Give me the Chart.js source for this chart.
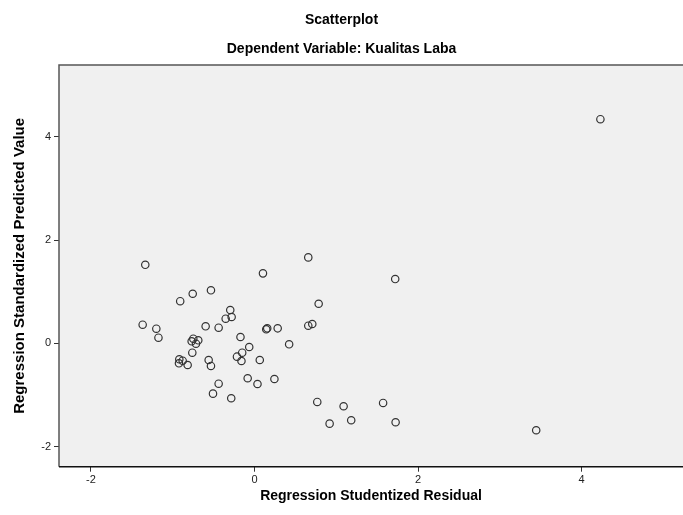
<!DOCTYPE html>
<html>
<head>
<meta charset="utf-8">
<script src="https://cdn.jsdelivr.net/npm/chart.js@4"></script>
<style>
  body { margin: 0; background: #fff; }
  canvas { display: block; }
</style>
</head>
<body>
<canvas id="scatter" width="683" height="515"></canvas>
<script>
// studentized residual (x) vs standardized predicted value (y)
const residuals = [
  4.23, -1.335, 0.104, 0.658, 1.721, -0.532, -0.908, -0.755, -0.296, 0.785,
  -0.279, -0.352, -1.367, -1.2, -1.174, -0.597, -0.438, 0.144, 0.156, 0.284,
  0.658, 0.707, -0.171, 0.424, -0.064, -0.748, -0.768, -0.715, -0.687, -0.76,
  -0.56, -0.532, -0.214, -0.15, -0.159, 0.065, -0.919, -0.923, -0.878, -0.817,
  -0.083, 0.037, 0.244, -0.438, -0.507, -0.284, 0.768, 1.09, 1.573, 0.919,
  1.183, 1.726, 3.445
];
const predicted = [
  4.34, 1.52, 1.355, 1.664, 1.244, 1.026, 0.815, 0.96, 0.644, 0.766,
  0.509, 0.476, 0.36, 0.283, 0.108, 0.329, 0.302, 0.271, 0.29, 0.29,
  0.341, 0.374, 0.122, -0.019, -0.072, 0.089, 0.039, -0.008, 0.058, -0.182,
  -0.323, -0.439, -0.259, -0.182, -0.343, -0.323, -0.31, -0.387, -0.337, -0.42,
  -0.677, -0.788, -0.691, -0.782, -0.975, -1.064, -1.136, -1.219, -1.155, -1.556,
  -1.49, -1.529, -1.684
];
const xTicks = [-2, 0, 2, 4];
const yTicks = [-2, 0, 2, 4];

const points = residuals.map((r, i) => ({ x: r, y: predicted[i] }));

// grey plot background + frame (the right side is cut off in the original)
const plotFrame = {
  id: 'plotFrame',
  beforeDatasetsDraw(chart) {
    const a = chart.chartArea;
    const ctx = chart.ctx;
    const right = chart.width;
    ctx.save();
    ctx.fillStyle = '#f0f0f0';
    ctx.fillRect(a.left, a.top, right - a.left, a.bottom - a.top);
    ctx.strokeStyle = '#555';
    ctx.lineWidth = 1.5;
    ctx.beginPath();
    ctx.moveTo(right, a.top);
    ctx.lineTo(a.left, a.top);
    ctx.lineTo(a.left, a.bottom);
    ctx.stroke();
    ctx.strokeStyle = '#111';
    ctx.beginPath();
    ctx.moveTo(a.left, a.bottom);
    ctx.lineTo(right, a.bottom);
    ctx.stroke();
    ctx.restore();
  }
};

const tickFont = { family: 'Liberation Sans, Arial', size: 11 };

new Chart(document.getElementById('scatter').getContext('2d'), {
  type: 'scatter',
  data: {
    datasets: [{
      data: points,
      pointStyle: 'circle',
      pointRadius: 3.7,
      pointHoverRadius: 3.7,
      backgroundColor: 'transparent',
      borderColor: '#333',
      borderWidth: 1.2
    }]
  },
  options: {
    responsive: false,
    animation: false,
    layout: { padding: 0, autoPadding: false },
    plugins: {
      legend: { display: false },
      tooltip: { enabled: false },
      title: {
        display: true,
        text: 'Scatterplot',
        color: '#000',
        font: { family: 'Liberation Sans, Arial', size: 14, weight: 'bold' },
        padding: { top: 12, bottom: 0 }
      },
      subtitle: {
        display: true,
        text: 'Dependent Variable: Kualitas Laba',
        color: '#000',
        font: { family: 'Liberation Sans, Arial', size: 14, weight: 'bold' },
        padding: { top: 11.8, bottom: 7.6 }
      }
    },
    scales: {
      x: {
        type: 'linear',
        min: -2.39,
        max: 5.24,
        afterBuildTicks: s => { s.ticks = xTicks.map(v => ({ value: v })); },
        afterFit: s => { s.height = 48.3; },
        border: { display: false },
        grid: { drawOnChartArea: false, drawTicks: true, tickLength: 5, color: '#333' },
        ticks: { color: '#222', font: tickFont, padding: 2, maxRotation: 0 },
        title: {
          display: true,
          text: 'Regression Studentized Residual',
          color: '#000',
          font: { family: 'Liberation Sans, Arial', size: 14, weight: 'bold' },
          padding: { top: 0, bottom: 10 }
        }
      },
      y: {
        type: 'linear',
        min: -2.39,
        max: 5.39,
        afterBuildTicks: s => { s.ticks = yTicks.map(v => ({ value: v })); },
        afterFit: s => { s.width = 59; },
        border: { display: false },
        grid: { drawOnChartArea: false, drawTicks: true, tickLength: 5, color: '#333' },
        ticks: { color: '#222', font: tickFont, padding: 3 },
        title: {
          display: true,
          text: 'Regression Standardized Predicted Value',
          color: '#000',
          font: { family: 'Liberation Sans, Arial', size: 15, weight: 'bold' },
          padding: { top: 11, bottom: 0 }
        }
      }
    }
  },
  plugins: [plotFrame]
});
</script>
</body>
</html>
